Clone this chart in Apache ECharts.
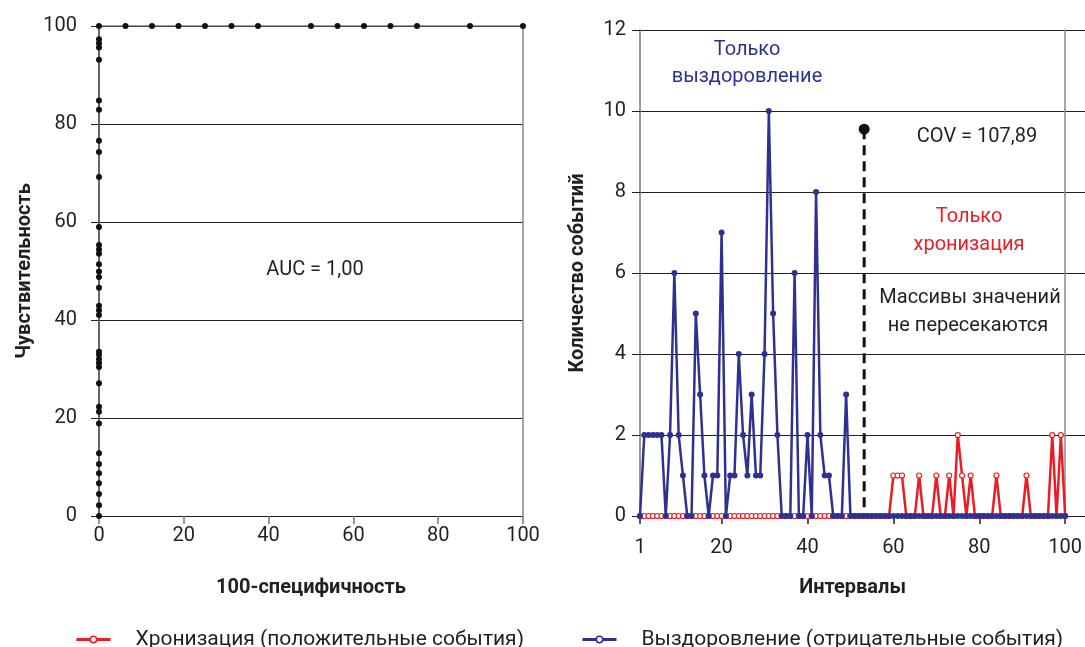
<!DOCTYPE html>
<html>
<head>
<meta charset="utf-8">
<script src="https://cdn.jsdelivr.net/npm/echarts@6/dist/echarts.min.js"></script>
<style>
  html, body { margin: 0; padding: 0; background: #fff; }
  #chart { width: 1085px; height: 647px; }
</style>
</head>
<body>
<div id="chart"></div>
<script>
// ROC-кривая: точки на оси 100-специфичность = 0
var rocSensAtZero = [0, 2.2, 4.5, 6.7, 8.7, 10.6, 12.8, 18.9, 21.3, 22.3, 27.1, 30.4, 31.2, 32.0, 32.9, 33.5,
  41.0, 42.0, 42.9, 46.6, 48.8, 49.9, 51.4, 53.5, 54.4, 55.3, 59.0, 69.2, 74.3, 76.6, 82.9, 84.8,
  93.1, 95.6, 96.5, 97.3, 100];
// ROC-кривая: точки при чувствительности = 100
var rocSpecAtFull = [6.25, 12.5, 18.75, 25, 31.25, 37.5, 50, 56.25, 62.5, 68.75, 75, 87.5, 100];

// распределение событий по интервалам 1..100
var recovery = [0, 2, 2, 2, 2, 2, 0, 2, 6, 2, 1, 0, 0, 5, 3, 1, 0, 1, 1, 7,
  0, 1, 1, 4, 2, 1, 3, 1, 1, 4, 10, 5, 2, 0, 0, 0, 6, 0, 0, 2,
  0, 8, 2, 1, 1, 0, 0, 0, 3, 0, 0, 0, 0, 0, 0, 0, 0, 0, 0, 0,
  0, 0, 0, 0, 0, 0, 0, 0, 0, 0, 0, 0, 0, 0, 0, 0, 0, 0, 0, 0,
  0, 0, 0, 0, 0, 0, 0, 0, 0, 0, 0, 0, 0, 0, 0, 0, 0, 0, 0, 0];
var chronic = [0, 0, 0, 0, 0, 0, 0, 0, 0, 0, 0, 0, 0, 0, 0, 0, 0, 0, 0, 0,
  0, 0, 0, 0, 0, 0, 0, 0, 0, 0, 0, 0, 0, 0, 0, 0, 0, 0, 0, 0,
  0, 0, 0, 0, 0, 0, 0, 0, 0, 0, 0, 0, 0, 0, 0, 0, 0, 0, 0, 1,
  1, 1, 0, 0, 0, 1, 0, 0, 0, 1, 0, 0, 1, 0, 2, 1, 0, 1, 0, 0,
  0, 0, 0, 1, 0, 0, 0, 0, 0, 0, 1, 0, 0, 0, 0, 0, 2, 0, 2, 0];
var intervals = recovery.map(function (v, i) { return i + 1; });
var intervalTicks = [1, 20, 40, 60, 80, 100];

// граница COV
var covX = 53.2;
var covTop = 9.55;

var BLUE = "#2e3192";
var RED = "#ed1c24";
var INK = "#231f20";
var FONT = "Roboto";

var rocData = rocSensAtZero.map(function (s) { return [0, s]; })
  .concat(rocSpecAtFull.map(function (x) { return [x, 100]; }));

var myChart = echarts.init(document.getElementById("chart"));

function txt(x, y, text, color) {
  return {
    type: "text",
    x: x,
    y: y,
    style: {
      text: text,
      fill: color || INK,
      font: "20px " + FONT,
      textAlign: "center",
      textVerticalAlign: "middle"
    }
  };
}

myChart.setOption({
  animation: false,
  textStyle: { fontFamily: FONT, color: INK },
  grid: [
    { left: 99, top: 26, width: 424, height: 490 },
    { left: 640, top: 30, width: 429, height: 486 },
    { left: 640, top: 30, width: 445, height: 486 }
  ],
  xAxis: [
    {
      gridIndex: 0,
      type: "value",
      min: 0,
      max: 100,
      interval: 20,
      name: "100-специфичность",
      nameLocation: "middle",
      nameGap: 62,
      nameTextStyle: { fontSize: 20, fontWeight: "bold", color: INK },
      axisLine: { lineStyle: { color: INK, width: 1 } },
      axisTick: { length: 8, lineStyle: { color: "#777", width: 1.5 } },
      axisLabel: { fontSize: 20, color: INK, margin: 10 },
      splitLine: { show: false }
    },
    {
      gridIndex: 1,
      type: "value",
      min: 1,
      max: 100,
      name: "Интервалы",
      nameLocation: "middle",
      nameGap: 62,
      nameTextStyle: { fontSize: 20, fontWeight: "bold", color: INK },
      axisLine: { lineStyle: { color: INK, width: 1 } },
      axisTick: { customValues: intervalTicks, length: 8, lineStyle: { color: INK, width: 1.5 } },
      axisLabel: { customValues: intervalTicks, fontSize: 20, color: INK, margin: 22 },
      splitLine: { show: false }
    },
    {
      gridIndex: 2,
      type: "value",
      min: 0,
      max: 1,
      show: false
    }
  ],
  yAxis: [
    {
      gridIndex: 0,
      type: "value",
      min: 0,
      max: 100,
      interval: 20,
      name: "Чувствительность",
      nameLocation: "middle",
      nameGap: 64,
      nameTextStyle: { fontSize: 20, fontWeight: "bold", color: INK },
      axisLine: { show: true, lineStyle: { color: "#777", width: 1.5 } },
      axisTick: { show: true, length: 8, lineStyle: { color: INK, width: 1 } },
      axisLabel: { fontSize: 20, color: INK, margin: 22 },
      splitLine: { lineStyle: { color: INK, width: 1 } }
    },
    {
      gridIndex: 0,
      type: "value",
      position: "right",
      min: 0,
      max: 100,
      axisLine: { show: true, lineStyle: { color: "#888", width: 1.5 } },
      axisTick: { show: false },
      axisLabel: { show: false },
      splitLine: { show: false }
    },
    {
      gridIndex: 1,
      type: "value",
      min: 0,
      max: 12,
      interval: 2,
      name: "Количество событий",
      nameLocation: "middle",
      nameGap: 52,
      nameTextStyle: { fontSize: 20, fontWeight: "bold", color: INK },
      axisLine: { show: true, lineStyle: { color: "#777", width: 1.5 } },
      axisTick: { show: true, length: 8, lineStyle: { color: INK, width: 1 } },
      axisLabel: { fontSize: 20, color: INK, margin: 14 },
      splitLine: { show: false }
    },
    {
      gridIndex: 1,
      type: "value",
      position: "right",
      min: 0,
      max: 12,
      axisLine: { show: true, lineStyle: { color: "#888", width: 1.5 } },
      axisTick: { show: false },
      axisLabel: { show: false },
      splitLine: { show: false }
    },
    {
      gridIndex: 2,
      type: "value",
      min: 0,
      max: 12,
      interval: 2,
      axisLine: { show: false },
      axisTick: { show: false },
      axisLabel: { show: false },
      splitLine: { lineStyle: { color: INK, width: 1 } }
    }
  ],
  legend: [
    {
      data: ["Хронизация (положительные события)"],
      left: 70,
      top: 624,
      itemWidth: 34,
      itemHeight: 8,
      itemStyle: { color: "#fff", borderColor: RED, borderWidth: 1.5 },
      lineStyle: { color: RED, width: 3, type: "solid" },
      textStyle: { fontSize: 21, color: INK, padding: [0, 0, 0, 20] }
    },
    {
      data: ["Выздоровление (отрицательные события)"],
      left: 576,
      top: 624,
      itemWidth: 34,
      itemHeight: 8,
      itemStyle: { color: "#fff", borderColor: BLUE, borderWidth: 1.5 },
      lineStyle: { color: BLUE, width: 3, type: "solid" },
      textStyle: { fontSize: 21, color: INK, padding: [0, 0, 0, 20] }
    }
  ],
  series: [
    {
      name: "ROC",
      type: "line",
      xAxisIndex: 0,
      yAxisIndex: 0,
      data: rocData,
      symbol: "circle",
      symbolSize: 6,
      itemStyle: { color: "#111" },
      lineStyle: { color: "#555", width: 1.5 }
    },
    {
      name: "Хронизация (положительные события)",
      type: "line",
      xAxisIndex: 1,
      yAxisIndex: 2,
      data: chronic.map(function (v, i) { return [intervals[i], v]; }),
      symbol: "circle",
      symbolSize: 5,
      itemStyle: { color: "#fff", borderColor: RED, borderWidth: 1.2 },
      lineStyle: { color: RED, width: 2.5 }
    },
    {
      name: "Выздоровление (отрицательные события)",
      type: "line",
      xAxisIndex: 1,
      yAxisIndex: 2,
      data: recovery.map(function (v, i) { return [intervals[i], v]; }),
      symbol: "circle",
      symbolSize: 6,
      itemStyle: { color: BLUE },
      lineStyle: { color: BLUE, width: 2.5 }
    },
    {
      name: "COV",
      type: "line",
      xAxisIndex: 1,
      yAxisIndex: 2,
      data: [[covX, covTop], [covX, 0]],
      symbol: function (value) { return value[1] > 0 ? "circle" : "none"; },
      symbolSize: 11,
      itemStyle: { color: "#111" },
      lineStyle: { color: "#111", width: 3, type: [10, 6] }
    }
  ],
  graphic: [
    txt(315, 270, "AUC = 1,00"),
    txt(747, 50, "Только", BLUE),
    txt(747, 77, "выздоровление", BLUE),
    txt(977, 137, "COV = 107,89"),
    txt(969, 217, "Только", RED),
    txt(969, 245, "хронизация", RED),
    txt(970, 298, "Массивы значений"),
    txt(968, 326, "не пересекаются")
  ]
});
</script>
</body>
</html>
